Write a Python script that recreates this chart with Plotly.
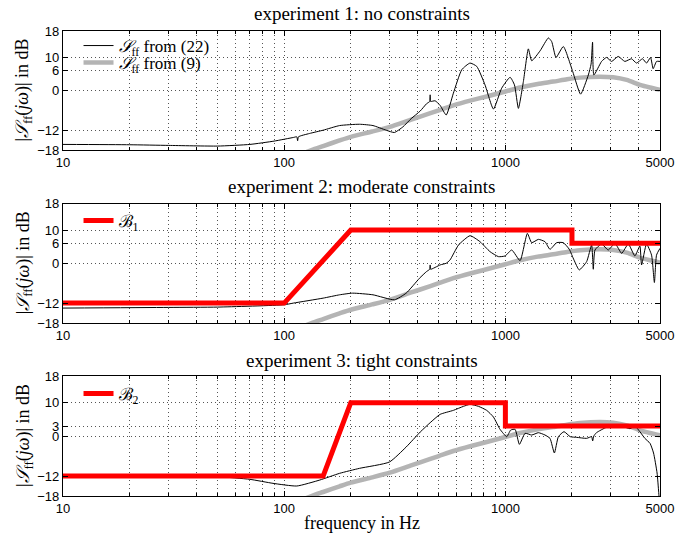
import plotly.graph_objects as go

# ---------------- data ----------------
freq_ticks = [10, 100, 1000, 5000]
freq_tick_labels = ["10", "100", "1000", "5000"]
freq_minor = [20, 30, 40, 50, 60, 70, 80, 90, 200, 300, 400, 500, 600, 700, 800, 900, 2000, 3000, 4000]

y_ticks_1 = [-18, -12, 0, 6, 10, 18]
y_ticks_2 = [-18, -12, 0, 6, 10, 18]
y_ticks_3 = [-18, -12, 0, 3, 10, 18]

titles = ["experiment 1: no constraints", "experiment 2: moderate constraints", "experiment 3: tight constraints"]

# model S_ff from (9) (same in all panels)
model_f = [120, 133, 150, 178, 200, 250, 300, 375, 412, 500, 582, 700, 823, 1000, 1165, 1400, 1647, 1900, 2174,
           2674, 3072, 3536, 4062, 4500, 5000]
model_db = [-19.2, -18.0, -16.8, -15.1, -14.0, -12.4, -11.0, -8.8, -7.9, -6.0, -4.5, -3.0, -1.8, -0.3, 0.9, 2.0,
            2.7, 3.4, 3.9, 4.2, 4.0, 3.2, 1.7, 0.9, 0.2]

# experiment 1: S_ff from (22)
exp1_f = [10, 20, 30, 50, 70, 90, 110, 114, 115, 116, 130, 150, 178, 219, 252, 289, 315, 344, 375, 412, 440, 455,
          457, 459, 481, 507, 540, 582, 635, 692, 742, 809, 883, 962, 1050, 1099, 1145, 1206, 1270, 1315, 1435, 1564,
          1619, 1694, 1828, 2014, 2188, 2371, 2440, 2478, 2512, 2722, 2866, 3020, 3236, 3467, 3715, 3917, 4169, 4345,
          4531, 4657, 4823, 5000]
exp1_db = [-16.3, -16.4, -16.6, -16.8, -16.3, -15.3, -14.2, -14.0, -15.2, -14.0, -13.0, -12.0, -10.6, -10.2, -10.6,
           -12.0, -12.7, -11.0, -8.5, -6.2, -4.0, -3.3, -1.3, -3.3, -3.1, -4.5, -7.4, -0.8, 6.3, 8.3, 7.3, 1.7, -5.6,
           0.7, 4.0, 1.7, -5.4, 2.7, 12.6, 9.0, 12.0, 15.9, 14.8, 10.0, 13.3, 5.8, -1.1, 4.7, 8.0, 14.6, 4.7, 8.8,
           10.0, 8.8, 10.3, 8.8, 9.6, 8.3, 9.6, 8.3, 10.0, 6.6, 8.8, 8.8]

# experiment 2
exp2_f = [10, 30, 50, 100, 110, 150, 178, 204, 252, 315, 356, 409, 440, 455, 457, 459, 507, 540, 562, 614, 692,
          768, 852, 930, 996, 1068, 1165, 1257, 1315, 1410, 1510, 1591, 1705, 1828, 1945, 2042, 2157, 2330, 2454,
          2497, 2541, 2722, 2917, 3128, 3354, 3594, 3849, 4054, 4127, 4345, 4578, 4717, 4823, 5000]
exp2_db = [-13.5, -13.3, -13.2, -12.5, -12.0, -10.5, -9.5, -9.0, -9.5, -11.0, -9.0, -4.5, -2.5, -1.8, -0.5, -1.8,
           -0.5, 0.0, 1.0, 5.5, 8.3, 6.5, 3.5, 2.0, 2.2, 4.0, 0.8, 9.0, 6.2, 7.2, 6.5, 4.2, 6.2, 6.2, 4.2, 1.0,
           -2.0, 0.5, 5.5, -1.8, 4.0, 5.8, 4.0, 6.0, 3.0, 5.8, 2.2, 5.2, -0.5, 5.8, 2.5, -5.8, 2.5, 4.5]
bound1_f = [10, 100, 200, 2000, 2000, 5000]
bound1_db = [-12, -12, 10, 10, 6, 6]

# experiment 3
exp3_f = [10, 30, 50, 70, 89, 114, 145, 178, 219, 299, 356, 412, 457, 507, 582, 646, 692, 756, 823, 883, 946,
          1014, 1057, 1106, 1157, 1227, 1315, 1410, 1510, 1591, 1665, 1736, 1841, 1964, 2101, 2330, 2454, 2480,
          2510, 2581, 2866, 3183, 3412, 3658, 3849, 4054, 4271, 4508, 4675, 4850, 4935, 5000]
exp3_db = [-12.0, -12.1, -12.2, -13.0, -14.2, -15.0, -13.2, -11.2, -9.7, -7.8, -3.3, 1.2, 4.0, 6.5, 7.7, 8.9, 9.5,
           8.9, 7.7, 5.7, 2.0, -0.2, 1.8, 2.0, -2.5, 0.8, 0.3, 1.0, 0.3, -0.7, -5.1, -0.2, 1.3, -0.2, -0.4, -0.7,
           -0.2, -1.5, 0.0, 1.0, 2.6, 2.8, 2.8, 2.2, 3.0, 1.3, -0.7, -2.2, -5.1, -11.1, -17.0, -22.0]
bound2_f = [10, 150, 200, 1000, 1000, 5000]
bound2_db = [-12, -12, 10, 10, 3, 3]

# ---------------- figure ----------------
SERIF = "Liberation Serif, Times New Roman, serif"
SANS = "Liberation Sans, Arial, sans-serif"
S_NAME = "<i>𝒮</i><sub>ff</sub>"

domains = [[0.744, 1.0], [0.372, 0.629], [0.0, 0.258]]
yticks = [y_ticks_1, y_ticks_2, y_ticks_3]

fig = go.Figure()

GRAY = "#b4b4b4"
BLACK_W = 1
for i in range(3):
    xa = "x" if i == 0 else f"x{i+1}"
    ya = "y" if i == 0 else f"y{i+1}"
    fig.add_trace(go.Scatter(x=model_f, y=model_db, mode="lines", xaxis=xa, yaxis=ya,
                             line=dict(color=GRAY, width=4.5, shape="spline", smoothing=0.6),
                             name=S_NAME + " from (9)", showlegend=(i == 0), legend="legend4"))

fig.add_trace(go.Scatter(x=exp1_f, y=exp1_db, mode="lines", xaxis="x", yaxis="y",
                         line=dict(color="black", width=BLACK_W, shape="spline", smoothing=0.5),
                         name=S_NAME + " from (22)", legend="legend"))
fig.add_trace(go.Scatter(x=exp2_f, y=exp2_db, mode="lines", xaxis="x2", yaxis="y2",
                         line=dict(color="black", width=BLACK_W, shape="spline", smoothing=0.5),
                         showlegend=False))
fig.add_trace(go.Scatter(x=exp3_f, y=exp3_db, mode="lines", xaxis="x3", yaxis="y3",
                         line=dict(color="black", width=BLACK_W, shape="spline", smoothing=0.5),
                         showlegend=False))
fig.add_trace(go.Scatter(x=bound1_f, y=bound1_db, mode="lines", xaxis="x2", yaxis="y2",
                         line=dict(color="#ff0000", width=5),
                         name="ℬ<sub>1</sub>", legend="legend2"))
fig.add_trace(go.Scatter(x=bound2_f, y=bound2_db, mode="lines", xaxis="x3", yaxis="y3",
                         line=dict(color="#ff0000", width=5),
                         name="ℬ<sub>2</sub>", legend="legend3"))

GRID_DASH = "1px,3px"
GRID_COLOR = "#555555"
axis_common = dict(showline=True, linecolor="black", linewidth=1.3, mirror="allticks",
                   ticks="inside", ticklen=5, tickcolor="black",
                   showgrid=True, gridcolor=GRID_COLOR, griddash=GRID_DASH, gridwidth=1,
                   zeroline=False, tickfont=dict(family=SANS, size=13, color="black"))

layout = dict(width=690, height=533, margin=dict(l=63, r=30, t=31, b=37),
              plot_bgcolor="white", paper_bgcolor="white", font=dict(family=SERIF, color="black"))
for i in range(3):
    xk = "xaxis" if i == 0 else f"xaxis{i+1}"
    yk = "yaxis" if i == 0 else f"yaxis{i+1}"
    layout[xk] = dict(axis_common, type="log", range=[1, 3.69897], tickmode="array",
                      tickvals=freq_ticks, ticktext=freq_tick_labels,
                      anchor="y" if i == 0 else f"y{i+1}",
                      minor=dict(tickmode="array", tickvals=freq_minor, ticks="inside", ticklen=3,
                                 tickcolor="black", showgrid=True, gridcolor=GRID_COLOR, griddash=GRID_DASH))
    layout[yk] = dict(axis_common, range=[-18, 18], tickmode="array", tickvals=yticks[i],
                      domain=domains[i], anchor="x" if i == 0 else f"x{i+1}")

leg_common = dict(bgcolor="rgba(0,0,0,0)", borderwidth=0, font=dict(family=SERIF, size=17, color="black"),
                  xanchor="left", yanchor="middle", x=0.026, itemwidth=30, tracegroupgap=0)
layout["legend"] = dict(leg_common, y=1 - (46 - 31) / 465)
layout["legend4"] = dict(leg_common, y=1 - (63 - 31) / 465)
layout["legend2"] = dict(leg_common, y=(496 - 221) / 465)
layout["legend3"] = dict(leg_common, y=(496 - 394) / 465)

fig.update_layout(**layout)

# titles
title_y = [1 + (31 - 14) / 465, (496 - 187) / 465, (496 - 360) / 465]
for i in range(3):
    fig.add_annotation(text=titles[i], x=0.5, y=title_y[i], xref="paper", yref="paper",
                       showarrow=False, xanchor="center", yanchor="middle",
                       font=dict(family=SERIF, size=19, color="black"))
    fig.add_annotation(text="|" + S_NAME + "(<i>jω</i>)| in dB", x=-(63 - 24) / 597,
                       y=(domains[i][0] + domains[i][1]) / 2, xref="paper", yref="paper",
                       showarrow=False, textangle=-90, xanchor="center", yanchor="middle",
                       font=dict(family=SERIF, size=18, color="black"))

fig.add_annotation(text="frequency in Hz", x=0.5, y=-(523 - 496) / 465, xref="paper", yref="paper",
                   showarrow=False, xanchor="center", yanchor="middle",
                   font=dict(family=SERIF, size=18, color="black"))

fig.write_html("out.html")
